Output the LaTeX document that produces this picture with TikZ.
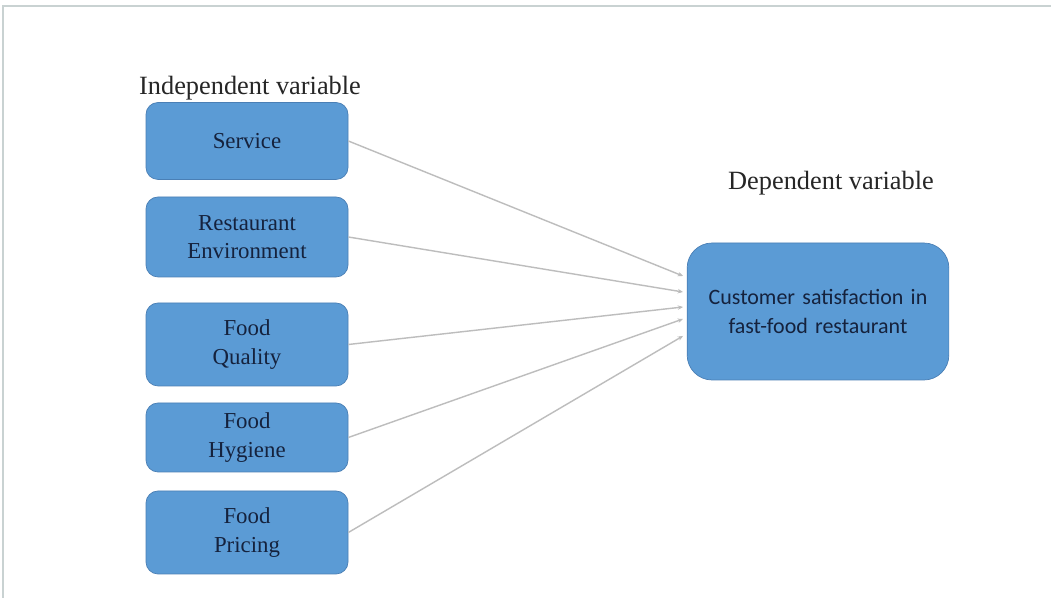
\documentclass[tikz,border=0pt]{standalone}
\usepackage{fontspec}
\setmainfont{Liberation Serif}
\newfontfamily\carlito[WordSpace=0.8]{Carlito}
\usetikzlibrary{arrows.meta}

\definecolor{boxblue}{HTML}{5B9BD5}
\definecolor{boxedge}{HTML}{4A7FB5}
\definecolor{boxtext}{HTML}{15223D}
\definecolor{linkgray}{HTML}{BDBDBD}
\definecolor{framegray}{HTML}{C9D2D2}

\tikzset{
    ivbox/.style={draw=boxedge, fill=boxblue, rounded corners=0.24cm,
        minimum width=4.04cm, text width=3.8cm, align=center,
        font=\fontsize{13}{16}\selectfont, text=boxtext},
    dvbox/.style={draw=boxedge, fill=boxblue, rounded corners=0.5cm,
        minimum width=5.2cm, minimum height=2.74cm, text width=5cm, align=center,
        font=\carlito\fontsize{12.5}{16}\selectfont, text=boxtext},
    heading/.style={font=\fontsize{15}{18}\selectfont, text=black!85},
    link/.style={draw=linkgray, line width=0.8pt, -{Stealth[length=3pt,width=2.5pt,fill=gray!70!black]}}
}

\begin{document}
\begin{tikzpicture}[scale=1]

    % Page size and the thin frame on the top and left
    \useasboundingbox[fill=white] (0,0) rectangle (21.02,11.96);
    \draw[framegray, line width=1pt] (21.02,11.84) -- (0.06,11.84) -- (0.06,0);

    % Headings
    \node[heading] (ivhead) at (5.0,10.2) {Independent variable};
    \node[heading] (dvhead) at (16.62,8.3) {Dependent variable};

    % Independent variables
    \node[ivbox, minimum height=1.54cm] (service) at (4.94,9.14) {Service};
    \node[ivbox, minimum height=1.6cm] (environment) at (4.94,7.22) {Restaurant\\Environment};
    \node[ivbox, minimum height=1.66cm] (quality) at (4.94,5.07) {Food\\Quality};
    \node[ivbox, minimum height=1.38cm] (hygiene) at (4.94,3.21) {Food\\Hygiene};
    \node[ivbox, minimum height=1.66cm] (pricing) at (4.94,1.31) {Food\\Pricing};

    % Dependent variable
    \node[dvbox] (satisfaction) at (16.36,5.73) {Customer satisfaction in\\fast-food restaurant};

    % Arrow ends just left of the dependent box
    \coordinate (t1) at (13.66,6.44);
    \coordinate (t2) at (13.66,6.12);
    \coordinate (t3) at (13.66,5.82);
    \coordinate (t4) at (13.66,5.58);
    \coordinate (t5) at (13.66,5.24);

    % Links
    \draw[link] (service.east) -- (t1);
    \draw[link] (environment.east) -- (t2);
    \draw[link] (quality.east) -- (t3);
    \draw[link] (hygiene.east) -- (t4);
    \draw[link] (pricing.east) -- (t5);

\end{tikzpicture}
\end{document}
